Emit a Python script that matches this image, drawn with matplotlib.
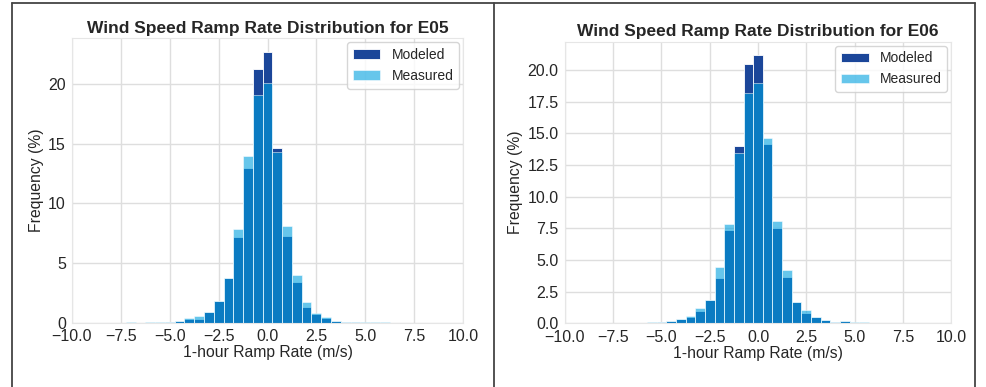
import matplotlib
matplotlib.use("Agg")
import matplotlib.pyplot as plt
from matplotlib.lines import Line2D
import seaborn as sns

sns.set_style("whitegrid")
plt.rcParams['font.family'] = ['Liberation Sans', 'DejaVu Sans']

bin_centers = [-7.5, -7.0, -6.5, -6.0, -5.5, -5.0, -4.5, -4.0, -3.5, -3.0, -2.5,
               -2.0, -1.5, -1.0, -0.5, 0.0, 0.5, 1.0, 1.5, 2.0, 2.5, 3.0, 3.5,
               4.0, 4.5, 5.0, 5.5, 6.0, 6.5, 7.0, 7.5]

e05_modeled = [0, 0, 0, 0.005, 0.01, 0.05, 0.11, 0.28, 0.33, 0.92, 1.78,
               3.76, 7.19, 12.95, 21.3, 22.7, 14.62, 7.30, 3.40, 1.30, 0.72, 0.40, 0.17,
               0.08, 0.02, 0.01, 0.005, 0, 0, 0, 0]
e05_measured = [0.01, 0.03, 0.01, 0.02, 0.03, 0.06, 0.12, 0.36, 0.60, 0.92, 1.80,
                3.76, 7.86, 13.93, 19.05, 20.06, 14.29, 8.13, 3.96, 1.77, 0.82, 0.45, 0.18,
                0.09, 0.04, 0.03, 0.02, 0.02, 0.005, 0, 0]

e06_modeled = [0, 0.01, 0.01, 0.02, 0.04, 0.12, 0.18, 0.32, 0.53, 0.95, 1.85,
               3.56, 7.34, 14.04, 20.5, 21.19, 14.17, 7.55, 3.64, 1.72, 0.79, 0.47, 0.26,
               0.08, 0.17, 0.05, 0.04, 0.01, 0, 0, 0.01]
e06_measured = [0.01, 0.03, 0.05, 0.05, 0.08, 0.14, 0.19, 0.35, 0.61, 1.24, 1.85,
                4.41, 7.81, 13.46, 18.23, 19.0, 14.64, 8.07, 4.22, 1.72, 1.03, 0.47, 0.26,
                0.08, 0.18, 0.08, 0.08, 0.03, 0.01, 0.01, 0.03]

sites = ["E05", "E06"]
x_ticks = [-10.0, -7.5, -5.0, -2.5, 0.0, 2.5, 5.0, 7.5, 10.0]
y_ticks = [[0, 5, 10, 15, 20], [0.0, 2.5, 5.0, 7.5, 10.0, 12.5, 15.0, 17.5, 20.0]]
y_fmt = ["{:.0f}", "{:.1f}"]

W, H = 986, 387
fig = plt.figure(figsize=(W / 100, H / 100), dpi=100)

rects = [[72 / W, 1 - 322.7 / H, (463 - 72) / W, (322.7 - 38.3) / H],
         [564.7 / W, 1 - 323.3 / H, (951.3 - 564.7) / W, (323.3 - 41.7) / H]]

modeled_color = "#1b4699"
measured_color = "#00a0df"
text_color = "#262626"

for i, (site, mod, meas) in enumerate(zip(sites, [e05_modeled, e06_modeled], [e05_measured, e06_measured])):
    ax = fig.add_axes(rects[i])
    ax.bar(bin_centers, mod, width=0.5, color=modeled_color, edgecolor="white",
           linewidth=0.6, label="Modeled")
    ax.bar(bin_centers, meas, width=0.5, color=measured_color, alpha=0.6, edgecolor="white",
           linewidth=0.6, label="Measured")
    ax.set_xlim(-10, 10)
    ax.set_xticks(x_ticks)
    ax.set_xticklabels(["{:.1f}".format(t).replace("-", "\u2212") for t in x_ticks])
    ax.set_yticks(y_ticks[i])
    ax.set_yticklabels([y_fmt[i].format(t) for t in y_ticks[i]])
    ax.tick_params(labelsize=11.5, colors=text_color, pad=1)
    ax.set_xlabel("1-hour Ramp Rate (m/s)", fontsize=11.3, color=text_color, labelpad=1)
    ax.set_ylabel("Frequency (%)", fontsize=11.3, color=text_color, labelpad=3)
    ax.set_title("Wind Speed Ramp Rate Distribution for " + site, fontsize=12.5,
                 fontweight="bold", color=text_color, pad=4)
    ax.grid(True, color="#dedede", linewidth=1)
    for s in ax.spines.values():
        s.set_color("#e6e6e6")
    ax.legend(loc="upper right", fontsize=10, frameon=True, borderaxespad=0.3)

# panel borders
def fl(x0, y0, x1, y1):
    fig.add_artist(Line2D([x0 / W, x1 / W], [1 - y0 / H, 1 - y1 / H], color="#444444",
                          linewidth=1.3, transform=fig.transFigure))

fl(12, 3, 975, 3)
fl(12, 3, 12, H + 5)
fl(493.5, 3, 493.5, H + 5)
fl(975, 3, 975, H + 5)

fig.savefig("out.png", dpi=100)
